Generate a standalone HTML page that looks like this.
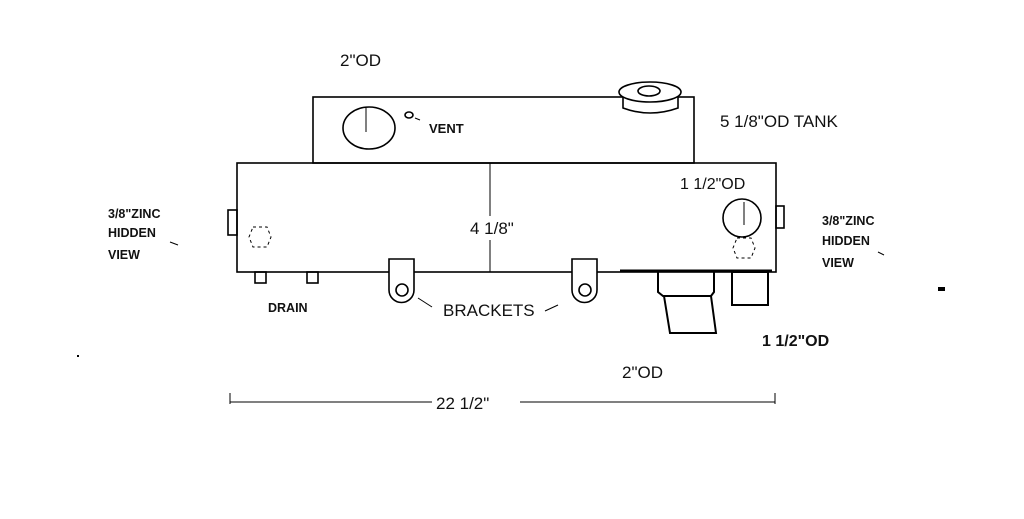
<!DOCTYPE html>
<html><head><style>
body{margin:0;background:#fff;}
svg text{font-family:"Liberation Sans",sans-serif;fill:#111;}
</style></head><body>
<svg width="1024" height="514" viewBox="0 0 1024 514" xmlns="http://www.w3.org/2000/svg">
<g fill="none" stroke="#000" stroke-width="1.6">
<rect x="313" y="97" width="381" height="66"/>
<ellipse cx="369" cy="128" rx="26" ry="21"/>
<line x1="366" y1="108" x2="366" y2="132" stroke-width="1"/>
<ellipse cx="409" cy="115" rx="4" ry="3"/>
<line x1="415" y1="118" x2="420" y2="120" stroke-width="1"/>
<path d="M623 96 L623 108 Q650 118 678 108 L678 96" fill="#fff"/>
<ellipse cx="650" cy="92" rx="31" ry="10" fill="#fff"/>
<ellipse cx="649" cy="91" rx="11" ry="5"/>
<rect x="237" y="163" width="539" height="109"/>
<line x1="490" y1="163" x2="490" y2="216" stroke-width="1"/>
<line x1="490" y1="240" x2="490" y2="272" stroke-width="1"/>
<rect x="228" y="210" width="9" height="25"/>
<rect x="776" y="206" width="8" height="22"/>
<ellipse cx="742" cy="218" rx="19" ry="19"/>
<line x1="744" y1="202" x2="744" y2="225" stroke-width="1"/>
<polygon points="253,227 267,227 271,237 267,247 253,247 249,237" stroke-dasharray="3,3" stroke-width="1"/>
<polygon points="737,238 751,238 755,248 751,258 737,258 733,248" stroke-dasharray="3,3" stroke-width="1"/>
<rect x="255" y="272" width="11" height="11"/>
<rect x="307" y="272" width="11" height="11"/>
<path d="M389 259 H414 V290 A12.5 12.5 0 0 1 389 290 Z" fill="#fff"/>
<circle cx="402" cy="290" r="6"/>
<path d="M572 259 H597 V290 A12.5 12.5 0 0 1 572 290 Z" fill="#fff"/>
<circle cx="585" cy="290" r="6"/>
<line x1="418" y1="298" x2="432" y2="307" stroke-width="1"/>
<line x1="545" y1="311" x2="558" y2="305" stroke-width="1"/>
<path d="M658 272 V292 L663 296 H711 L714 292 V272" stroke-width="2"/>
<path d="M664 296 L670 333 H716 L711 296" stroke-width="2"/>
<rect x="732" y="272" width="36" height="33" stroke-width="2"/>
<line x1="620" y1="271" x2="772" y2="271" stroke-width="3"/>
<line x1="230" y1="402" x2="432" y2="402" stroke-width="1"/>
<line x1="520" y1="402" x2="775" y2="402" stroke-width="1"/>
<line x1="230" y1="393" x2="230" y2="404" stroke-width="1"/>
<line x1="775" y1="393" x2="775" y2="404" stroke-width="1"/>
<line x1="170" y1="242" x2="178" y2="245" stroke-width="1"/>
<line x1="878" y1="252" x2="884" y2="255" stroke-width="1"/>
</g>
<rect x="938" y="287" width="7" height="4" fill="#000"/>
<rect x="77" y="355" width="2" height="2" fill="#000"/>
<text x="340" y="66" font-size="17">2"OD</text>
<text x="720" y="127" font-size="17">5 1/8"OD TANK</text>
<text x="470" y="234" font-size="17">4 1/8"</text>
<text x="429" y="133" font-size="13" font-weight="bold">VENT</text>
<text x="680" y="189" font-size="16">1 1/2"OD</text>
<g font-size="12.5" font-weight="bold">
<text x="108" y="218">3/8"ZINC</text>
<text x="108" y="237">HIDDEN</text>
<text x="108" y="259">VIEW</text>
<text x="822" y="225">3/8"ZINC</text>
<text x="822" y="245">HIDDEN</text>
<text x="822" y="267">VIEW</text>
<text x="268" y="312">DRAIN</text>
</g>
<text x="443" y="316" font-size="17">BRACKETS</text>
<text x="762" y="346" font-size="16" font-weight="bold">1 1/2"OD</text>
<text x="622" y="378" font-size="17">2"OD</text>
<text x="436" y="409" font-size="17">22 1/2"</text>
</svg>
</body></html>
